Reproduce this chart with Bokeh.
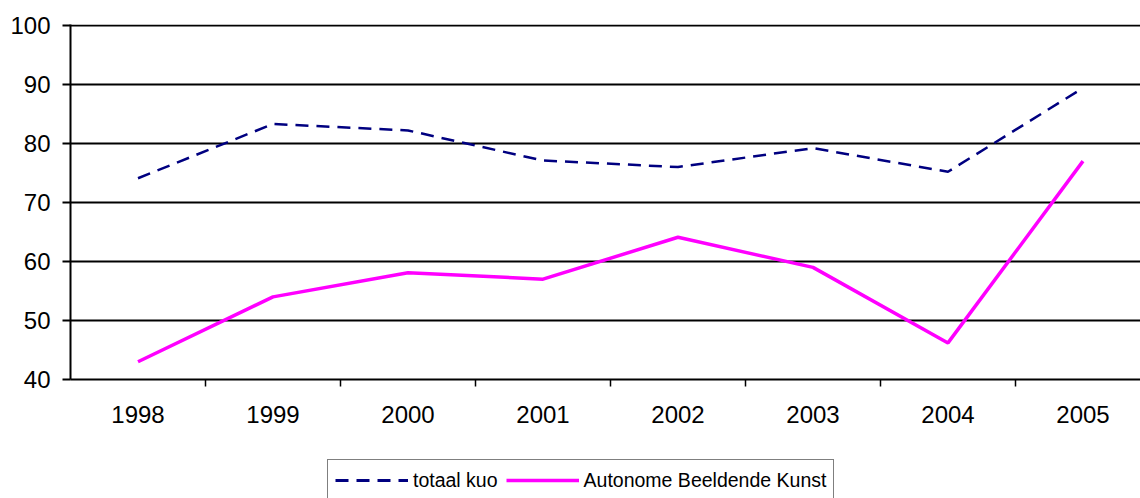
from bokeh.plotting import figure
from bokeh.models import Range1d, FixedTicker, Legend, LegendItem
from bokeh.layouts import column
from bokeh.embed import file_html
from bokeh.resources import INLINE

years = ["1998", "1999", "2000", "2001", "2002", "2003", "2004", "2005"]
totaal_kuo = [74.1, 83.3, 82.2, 77.1, 76.0, 79.2, 75.2, 89.4]
autonome = [43.0, 54.0, 58.1, 57.0, 64.1, 59.0, 46.2, 77.0]
y_ticks = [40, 50, 60, 70, 80, 90, 100]
series_names = ["totaal kuo", "Autonome Beeldende Kunst"]

xs = [i + 0.5 for i in range(len(years))]
bounds = [i for i in range(1, len(years))]

FONT = "Liberation Sans"
NAVY = "#000080"
PINK = "#FF00FF"

p = figure(width=1140, height=450, output_backend="svg", toolbar_location=None,
           x_range=Range1d(0, 1070 / 135), y_range=Range1d(40, 100.15),
           min_border_left=70, min_border_right=0, min_border_top=24,
           min_border_bottom=71)
p.outline_line_color = None
p.background_fill_color = "white"
p.border_fill_color = "white"

p.line(xs, totaal_kuo, line_color=NAVY, line_width=2.5, line_dash="13 8")
p.line(xs, autonome, line_color=PINK, line_width=3.5)

# x axis
xa = p.xaxis[0]
xa.ticker = FixedTicker(ticks=xs, minor_ticks=bounds)
xa.major_label_overrides = {x: y for x, y in zip(xs, years)}
xa.major_tick_line_color = None
xa.major_tick_out = 0
xa.major_tick_in = 0
xa.minor_tick_line_color = "black"
xa.minor_tick_line_width = 1.5
xa.minor_tick_out = 7
xa.minor_tick_in = 0
xa.axis_line_color = "black"
xa.axis_line_width = 2
xa.major_label_standoff = 19
xa.major_label_text_font = FONT
xa.major_label_text_font_size = "24px"
xa.major_label_text_color = "black"

# y axis
ya = p.yaxis[0]
ya.ticker = FixedTicker(ticks=y_ticks)
ya.major_tick_line_color = "black"
ya.major_tick_line_width = 2
ya.major_tick_out = 8
ya.major_tick_in = 0
ya.minor_tick_line_color = None
ya.axis_line_color = "black"
ya.axis_line_width = 2
ya.major_label_standoff = 12
ya.major_label_text_font = FONT
ya.major_label_text_font_size = "24px"
ya.major_label_text_color = "black"

p.xgrid.grid_line_color = None
p.ygrid.ticker = FixedTicker(ticks=y_ticks)
p.ygrid.grid_line_color = "black"
p.ygrid.grid_line_width = 2

# legend strip below the chart (its plot ranges hide the series lines)
lf = figure(width=1140, height=48, output_backend="svg", toolbar_location=None,
            x_range=Range1d(100, 101), y_range=Range1d(1000, 1001),
            min_border_left=70, min_border_right=0, min_border_top=9,
            min_border_bottom=0)
lf.axis.visible = False
lf.grid.grid_line_color = None
lf.outline_line_color = None
lf.background_fill_color = "white"
lf.border_fill_color = "white"
l1 = lf.line(xs, totaal_kuo, line_color=NAVY, line_width=3, line_dash="13 8")
l2 = lf.line(xs, autonome, line_color=PINK, line_width=3.5)

legend = Legend(items=[LegendItem(label=series_names[0], renderers=[l1]),
                       LegendItem(label=series_names[1], renderers=[l2])],
                orientation="horizontal", location=(257, -3))
legend.label_text_font = FONT
legend.label_text_font_size = "19.5px"
legend.label_text_color = "black"
legend.glyph_width = 73
legend.glyph_height = 26
legend.label_height = 26
legend.label_standoff = 5
legend.spacing = 8
legend.padding = 7
legend.margin = 0
legend.border_line_color = "black"
legend.border_line_width = 1.5
legend.background_fill_color = "white"
legend.background_fill_alpha = 1
lf.add_layout(legend, "center")

layout = column(p, lf, spacing=0)
open("out.html", "w").write(file_html(layout, INLINE))
